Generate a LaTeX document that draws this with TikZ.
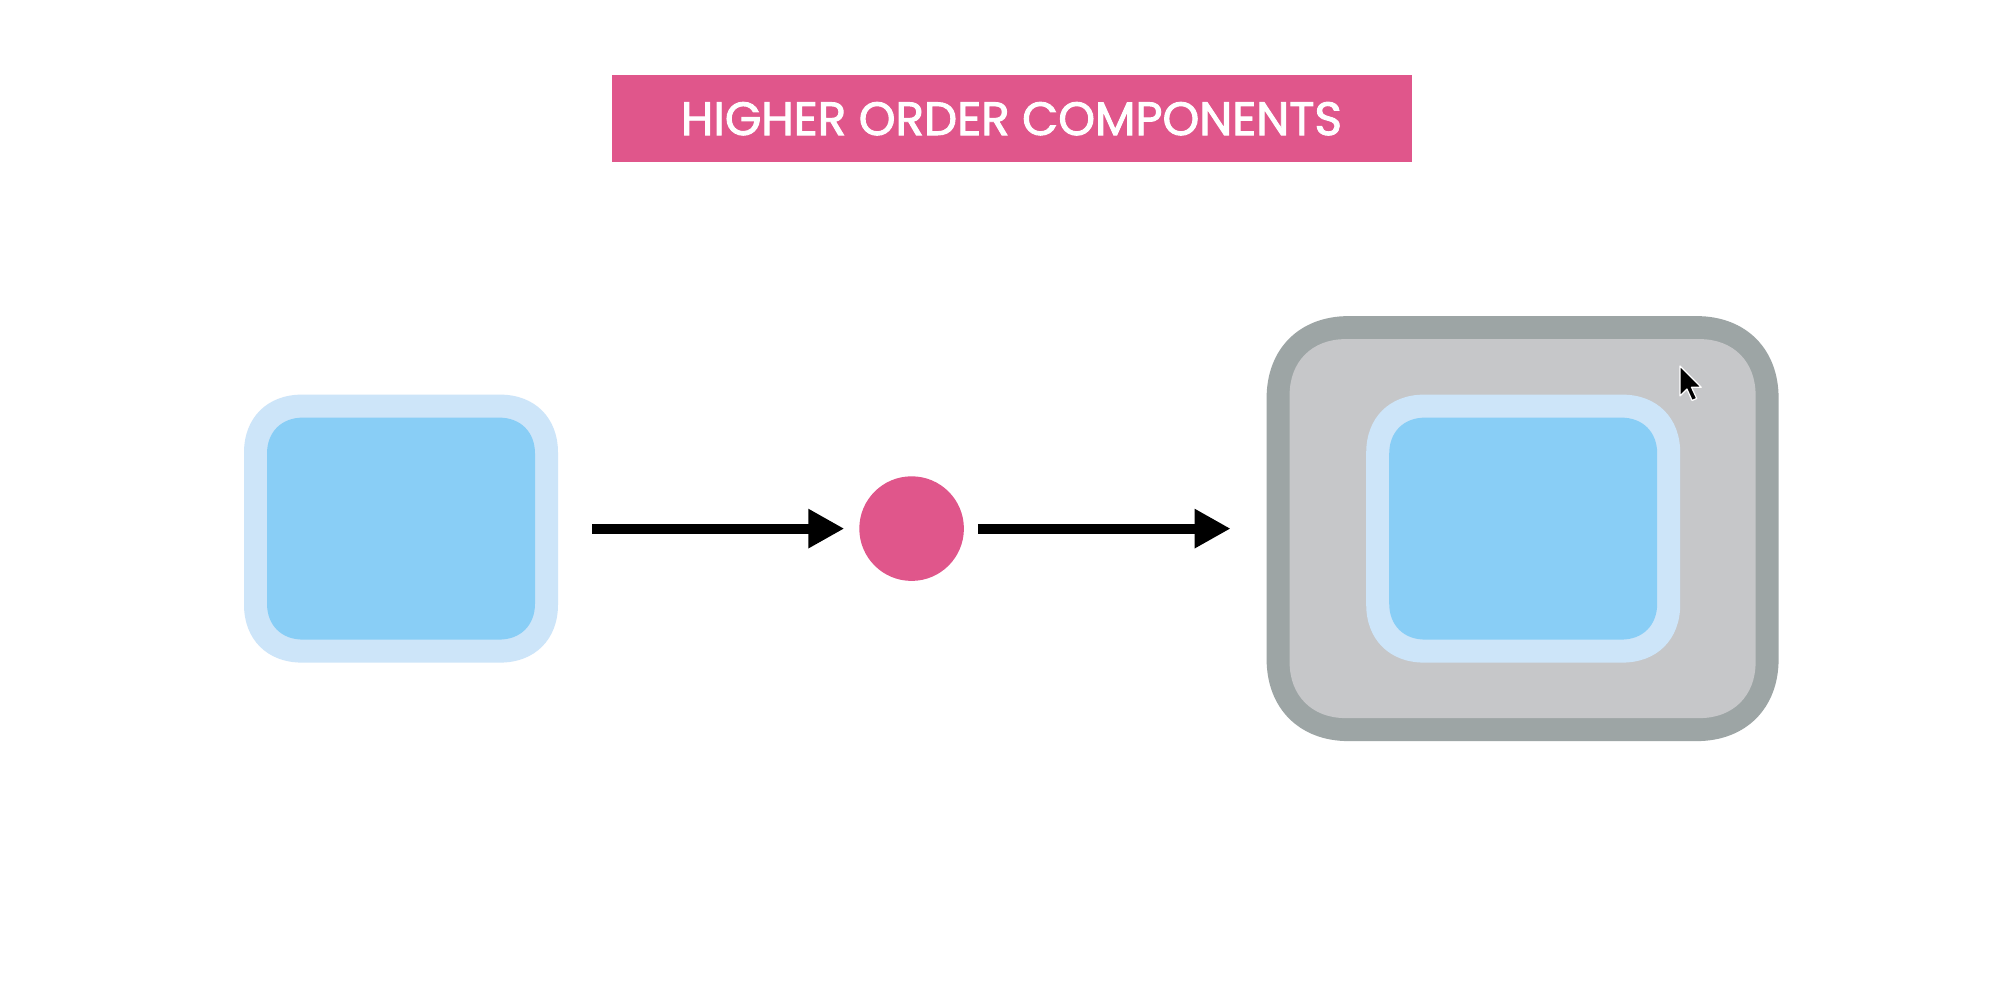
\documentclass[tikz,border=0pt]{standalone}
\usepackage{fontspec}
\newfontfamily\poppins[FakeBold=2]{Poppins}
\usetikzlibrary{arrows.meta}
\definecolor{hocpink}{HTML}{E0568B}
\definecolor{lightblue}{HTML}{CDE5F9}
\definecolor{midblue}{HTML}{89CEF6}
\definecolor{grayborder}{HTML}{9DA5A5}
\definecolor{grayfill}{HTML}{C6C7C9}
% smooth rounded box filled on the frame of a named node
% #1 colour, #2 node name, #3 corner extent, #4 control distance
\newcommand\sqfill[4]{%
  \fill[#1] ([xshift=#3]#2.north west) -- ([xshift=-#3]#2.north east)
    .. controls ([xshift=-#4]#2.north east) and ([yshift=-#4]#2.north east) .. ([yshift=-#3]#2.north east)
    -- ([yshift=#3]#2.south east)
    .. controls ([yshift=#4]#2.south east) and ([xshift=-#4]#2.south east) .. ([xshift=-#3]#2.south east)
    -- ([xshift=#3]#2.south west)
    .. controls ([xshift=#4]#2.south west) and ([yshift=#4]#2.south west) .. ([yshift=#3]#2.south west)
    -- ([yshift=-#3]#2.north west)
    .. controls ([yshift=-#4]#2.north west) and ([xshift=#4]#2.north west) .. ([xshift=#3]#2.north west)
    -- cycle;}
\tikzset{
  frame/.style={inner sep=0pt, outer sep=0pt},
  compouter/.style={frame, minimum width=157pt, minimum height=134pt},
  compinner/.style={frame, minimum width=134pt, minimum height=111pt},
  hocouter/.style={frame, minimum width=256pt, minimum height=212.5pt},
  hocinner/.style={frame, minimum width=233pt, minimum height=189.5pt},
  dotnode/.style={circle, fill=hocpink, minimum size=52.3pt, inner sep=0pt, outer sep=0pt},
  flow/.style={line width=5pt, -{Triangle[length=18pt, width=18.5pt]}},
}
\begin{document}
\begin{tikzpicture}[x=0.5pt, y=-0.5pt]
\useasboundingbox[fill=white] (0,0) rectangle (2002,980);
% title
\node[fill=hocpink, minimum width=400.2pt, minimum height=43.45pt, inner sep=0pt] (title) at (1011.8,118.7) {};
\node[text=white, inner sep=0pt] (titletext) at (1011.5,118.7) {\resizebox{330.5pt}{16.5pt}{\poppins HIGHER ORDER COMPONENTS}};
% left component
\node[compouter] (leftouter) at (401,528.6) {};
\node[compinner] (leftinner) at (401,528.6) {};
\sqfill{lightblue}{leftouter}{29pt}{11.6pt}
\sqfill{midblue}{leftinner}{18pt}{7.2pt}
% function dot
\node[dotnode] (dot) at (911.6,528.6) {};
% right wrapped component
\node[hocouter] (rightouter) at (1522.6,528.6) {};
\node[hocinner] (rightgray) at (1522.6,528.6) {};
\node[compouter] (rightmid) at (1523.2,528.6) {};
\node[compinner] (rightinner) at (1523.2,528.6) {};
\sqfill{grayborder}{rightouter}{41pt}{16.4pt}
\sqfill{grayfill}{rightgray}{28pt}{11.2pt}
\sqfill{lightblue}{rightmid}{29pt}{11.6pt}
\sqfill{midblue}{rightinner}{18pt}{7.2pt}
% arrows
\draw[flow, shorten <=17pt, shorten >=7.5pt] (leftouter.east) -- (dot.west);
\draw[flow, shorten <=7pt, shorten >=18pt] (dot.east) -- (rightouter.west);
% cursor
\coordinate (cursor) at (1680,366);
\draw[fill=black, draw=white, line width=0.6pt, line join=round, shift={(cursor)}, scale=1.15]
  (0,0) -- (0,26) -- (6,20) -- (10.5,30) -- (14.5,28.2) -- (10,18.5) -- (18.5,18.5) -- cycle;
\end{tikzpicture}
\end{document}
